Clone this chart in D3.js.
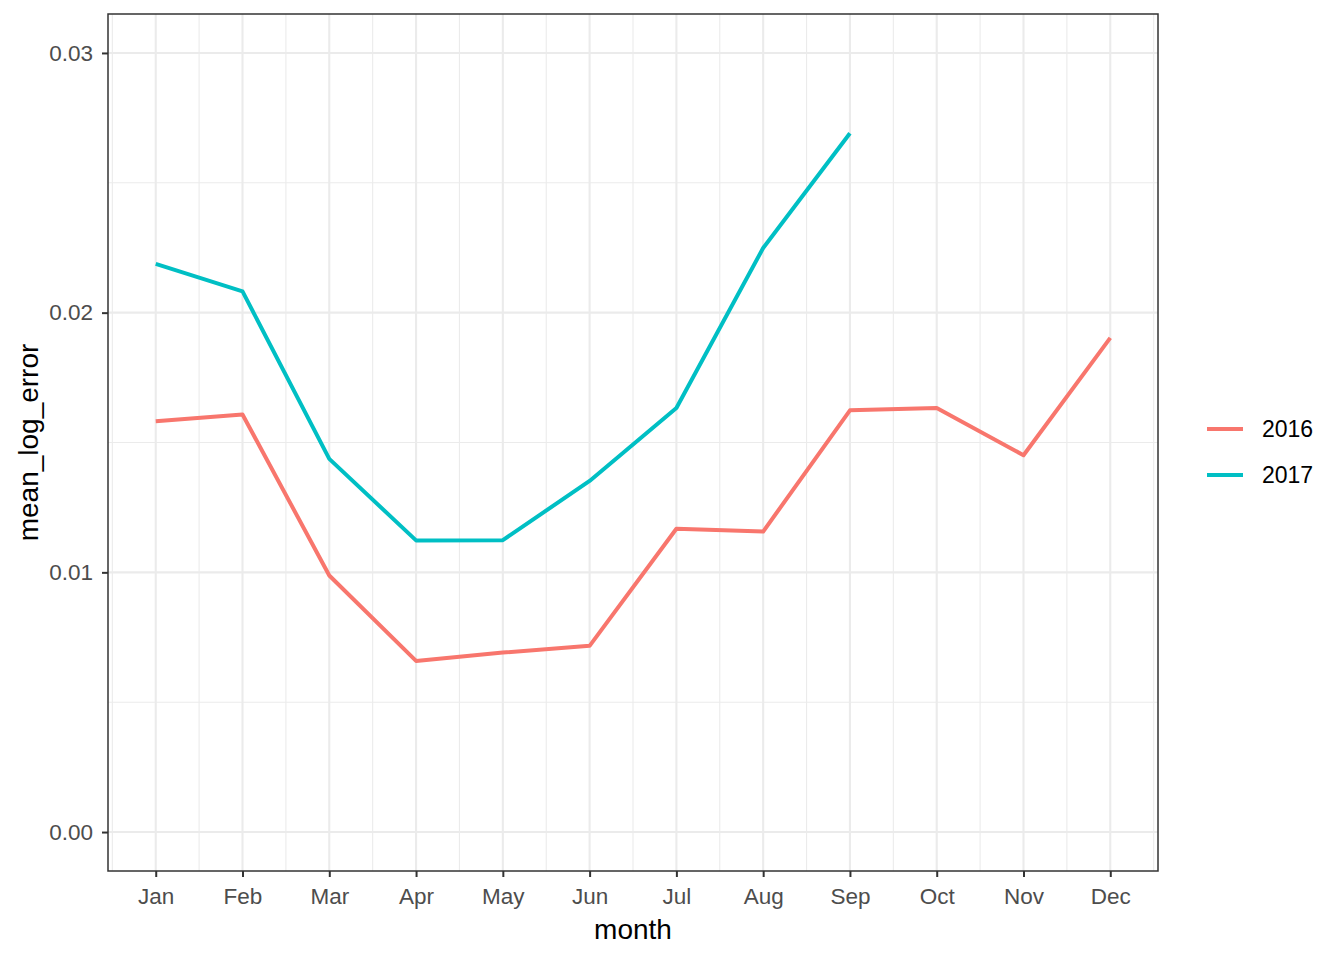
<!DOCTYPE html>
<html>
<head>
<meta charset="utf-8">
<script src="https://cdn.jsdelivr.net/npm/d3@7"></script>
<style>
  html, body { margin: 0; padding: 0; background: #fff; }
  svg { display: block; font-family: "Liberation Sans", Arial, sans-serif; }
</style>
</head>
<body>
<svg id="chart" width="1344" height="960"></svg>
<script>
const months = ["Jan","Feb","Mar","Apr","May","Jun","Jul","Aug","Sep","Oct","Nov","Dec"];
const monthNums = [1,2,3,4,5,6,7,8,9,10,11,12];
const values2016 = [0.01582,0.01608,0.00988,0.00659,0.00691,0.00717,0.01168,0.01157,0.01624,0.01633,0.01451,0.01903];
const values2017 = [0.02188,0.02082,0.01437,0.01123,0.01124,0.01352,0.01633,0.02249,0.02691];
const seriesNames = ["2016","2017"];
const seriesColors = ["#F8766D","#00BFC4"];
const yTicks = [0.00,0.01,0.02,0.03];
const yMinor = [0.005,0.015,0.025];
const xMinor = [0.5,1.5,2.5,3.5,4.5,5.5,6.5,7.5,8.5,9.5,10.5,11.5,12.5];

const series = [
  {name: seriesNames[0], color: seriesColors[0], values: values2016.map((v,i)=>({m: monthNums[i], v}))},
  {name: seriesNames[1], color: seriesColors[1], values: values2017.map((v,i)=>({m: monthNums[i], v}))}
];

const svg = d3.select("#chart");
const P = {left: 108, right: 1158, top: 14, bottom: 871};

const x = d3.scaleLinear().domain([0.45, 12.55]).range([P.left, P.right]);
const y = d3.scaleLinear().domain([-0.0015, 0.0315]).range([P.bottom, P.top]);

const g = svg.append("g");
g.append("rect").attr("x",P.left).attr("y",P.top).attr("width",P.right-P.left).attr("height",P.bottom-P.top).attr("fill","#fff");

// minor grid
g.selectAll(".xminor").data(xMinor).enter().append("line")
  .attr("x1",d=>x(d)).attr("x2",d=>x(d)).attr("y1",P.top).attr("y2",P.bottom)
  .attr("stroke","#EBEBEB").attr("stroke-width",1.1);
g.selectAll(".yminor").data(yMinor).enter().append("line")
  .attr("x1",P.left).attr("x2",P.right).attr("y1",d=>y(d)).attr("y2",d=>y(d))
  .attr("stroke","#EBEBEB").attr("stroke-width",1.1);
// major grid
g.selectAll(".xmajor").data(monthNums).enter().append("line")
  .attr("x1",d=>x(d)).attr("x2",d=>x(d)).attr("y1",P.top).attr("y2",P.bottom)
  .attr("stroke","#EBEBEB").attr("stroke-width",2.1);
g.selectAll(".ymajor").data(yTicks).enter().append("line")
  .attr("x1",P.left).attr("x2",P.right).attr("y1",d=>y(d)).attr("y2",d=>y(d))
  .attr("stroke","#EBEBEB").attr("stroke-width",2.1);

// lines
const line = d3.line().x(d=>x(d.m)).y(d=>y(d.v));
series.forEach(s => {
  g.append("path").datum(s.values).attr("d",line)
    .attr("fill","none").attr("stroke",s.color).attr("stroke-width",4)
    .attr("stroke-linejoin","round").attr("stroke-linecap","butt");
});

// panel border
g.append("rect").attr("x",P.left).attr("y",P.top).attr("width",P.right-P.left).attr("height",P.bottom-P.top)
  .attr("fill","none").attr("stroke","#333333").attr("stroke-width",1.5);

// axes
const xAxis = d3.axisBottom(x).tickValues(monthNums).tickFormat(d=>months[d-1]).tickSizeInner(6).tickSizeOuter(0).tickPadding(7);
const xg = svg.append("g").attr("transform",`translate(0,${P.bottom})`).call(xAxis);
xg.select(".domain").remove();
xg.selectAll(".tick line").attr("stroke","#333333").attr("stroke-width",2);
xg.selectAll(".tick text").attr("fill","#4D4D4D").attr("font-size",22.5).attr("font-family","Liberation Sans, Arial, sans-serif").attr("dy","0.9em");

const yAxis = d3.axisLeft(y).tickValues(yTicks).tickFormat(d3.format(".2f")).tickSizeInner(6).tickSizeOuter(0).tickPadding(9);
const yg = svg.append("g").attr("transform",`translate(${P.left},0)`).call(yAxis);
yg.select(".domain").remove();
yg.selectAll(".tick line").attr("stroke","#333333").attr("stroke-width",2);
yg.selectAll(".tick text").attr("fill","#4D4D4D").attr("font-size",22.5).attr("font-family","Liberation Sans, Arial, sans-serif");

// axis titles
svg.append("text").attr("x",(P.left+P.right)/2).attr("y",939).attr("text-anchor","middle")
  .attr("font-size",28).attr("fill","#000").text("month");
svg.append("text").attr("transform",`translate(38,${(P.top+P.bottom)/2}) rotate(-90)`).attr("text-anchor","middle")
  .attr("font-size",28).attr("fill","#000").text("mean_log_error");

// legend
const leg = svg.append("g");
series.forEach((s,i) => {
  const cy = 429 + i*46;
  leg.append("line").attr("x1",1207).attr("x2",1243).attr("y1",cy).attr("y2",cy)
    .attr("stroke",s.color).attr("stroke-width",4);
  leg.append("text").attr("x",1262).attr("y",cy).attr("dy","0.36em").attr("font-size",23)
    .attr("fill","#000").text(s.name);
});
</script>
</body>
</html>
